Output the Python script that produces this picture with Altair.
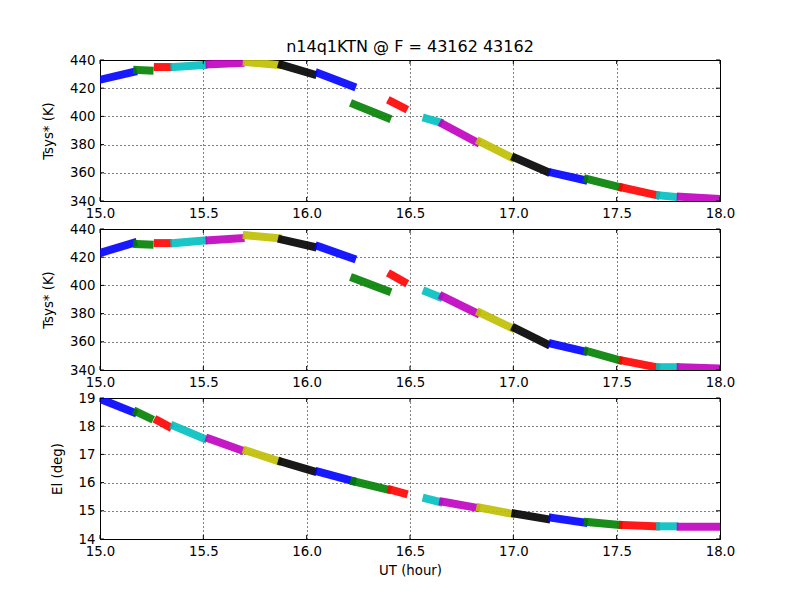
import altair as alt
import pandas as pd

# segment time ranges (UT hour) of first/last sample in each scan
seg_start = [15.00, 15.18, 15.28, 15.36, 15.53, 15.71, 15.88, 16.06, 16.23, 16.41,
             16.58, 16.66, 16.84, 17.01, 17.19, 17.36, 17.53, 17.71, 17.81]
seg_end = [15.16, 15.24, 15.33, 15.50, 15.68, 15.86, 16.03, 16.22, 16.39, 16.47,
           16.64, 16.82, 16.99, 17.16, 17.34, 17.51, 17.69, 17.78, 18.00]

# top panel Tsys*
tsys1_start = [426, 433, 435, 435, 437, 438.5, 436.5, 430.5, 408.5, 410.5,
               398.5, 394.5, 382, 370.5, 360, 355.5, 349.5, 344, 343]
tsys1_end = [431.5, 432.5, 435, 436.5, 438, 436.5, 430, 421.5, 399, 406,
             396, 382, 371, 361, 355, 350, 344.3, 343, 341.5]

# middle panel Tsys*
tsys2_start = [423, 429.3, 430, 430, 432, 435.5, 432.5, 427.5, 405, 407.5,
               395.5, 392, 380.5, 369.5, 358.5, 353.3, 346.6, 342, 342]
tsys2_end = [430, 429, 430, 431.8, 433.5, 433.5, 427.5, 419.3, 396.2, 402.6,
             392, 380.5, 370, 358.6, 353.3, 347.1, 342, 342, 341]

# bottom panel elevation
el_start = [18.97, 18.5, 18.2, 18.0, 17.55, 17.13, 16.74, 16.38, 16.04, 15.74,
            15.43, 15.32, 15.11, 14.9, 14.75, 14.6, 14.5, 14.45, 14.43]
el_end = [18.5, 18.29, 18.0, 17.57, 17.16, 16.77, 16.41, 16.06, 15.76, 15.62,
          15.32, 15.11, 14.9, 14.71, 14.59, 14.5, 14.45, 14.45, 14.43]

cycle = ["#0000ff", "#008000", "#ff0000", "#00bfbf", "#bf00bf", "#bfbf00", "#000000"]
seg_colors = [cycle[i % 7] for i in range(len(seg_start))]

x_ticks = [15.0, 15.5, 16.0, 16.5, 17.0, 17.5, 18.0]
tsys_ticks = [340, 360, 380, 400, 420, 440]
el_ticks = [14, 15, 16, 17, 18, 19]

FONT = "DejaVu Sans"
FS = 13.3
W, H = 620, 141


def make_df(ys, ye):
    rows = []
    for i in range(len(seg_start)):
        rows.append({"seg": i, "x": seg_start[i], "y": ys[i], "color": seg_colors[i]})
        rows.append({"seg": i, "x": seg_end[i], "y": ye[i], "color": seg_colors[i]})
    return pd.DataFrame(rows)


def panel(df, ydom, yticks, ytitle, xtitle=None, title=None):
    xscale = alt.Scale(domain=[15, 18], nice=False, zero=False)
    yscale = alt.Scale(domain=ydom, nice=False, zero=False)
    xaxis_kw = dict(values=x_ticks, format=".1f", grid=True, domain=False, ticks=False,
                    labelFlush=False, labelOverlap=False, labelPadding=5,
                    labelFont=FONT, labelFontSize=FS, labelColor="black",
                    gridColor="black", gridDash=[1, 3], gridOpacity=1, gridWidth=1)
    if xtitle:
        xaxis_kw.update(title=xtitle, titleFont=FONT, titleFontSize=FS,
                        titleFontWeight="normal", titleColor="black", titlePadding=6)
    else:
        xaxis_kw.update(title="")
    xaxis = alt.Axis(**xaxis_kw)
    yaxis = alt.Axis(values=yticks, grid=True, domain=False, ticks=False,
                     labelFlush=False, labelOverlap=False, labelPadding=5,
                     labelFont=FONT, labelFontSize=FS, labelColor="black",
                     gridColor="black", gridDash=[1, 3], gridOpacity=1, gridWidth=1,
                     title=ytitle, titleFont=FONT, titleFontSize=FS,
                     titleFontWeight="normal", titleColor="black", titlePadding=14)
    lines = alt.Chart(df).mark_line(strokeWidth=8, clip=True, strokeCap="square", opacity=0.9).encode(
        x=alt.X("x:Q", scale=xscale, axis=xaxis),
        y=alt.Y("y:Q", scale=yscale, axis=yaxis),
        color=alt.Color("color:N", scale=None),
        detail="seg:N",
    )
    xt = pd.DataFrame({"x": x_ticks})
    yt = pd.DataFrame({"y": yticks})
    xtick_top = alt.Chart(xt).mark_rule(color="black", strokeWidth=1).encode(
        x=alt.X("x:Q", scale=xscale, axis=xaxis), y=alt.value(0), y2=alt.value(4))
    xtick_bot = alt.Chart(xt).mark_rule(color="black", strokeWidth=1).encode(
        x=alt.X("x:Q", scale=xscale, axis=xaxis), y=alt.value(H), y2=alt.value(H - 4))
    ytick_l = alt.Chart(yt).mark_rule(color="black", strokeWidth=1).encode(
        y=alt.Y("y:Q", scale=yscale, axis=yaxis), x=alt.value(0), x2=alt.value(4))
    ytick_r = alt.Chart(yt).mark_rule(color="black", strokeWidth=1).encode(
        y=alt.Y("y:Q", scale=yscale, axis=yaxis), x=alt.value(W), x2=alt.value(W - 4))
    ch = alt.layer(lines, xtick_top, xtick_bot, ytick_l, ytick_r)
    props = dict(width=W, height=H)
    if title:
        props["title"] = alt.Title(title, font=FONT, fontSize=16, fontWeight="normal",
                                   color="black", anchor="middle", frame="group", offset=-2)
    return ch.properties(**props)


p1 = panel(make_df(tsys1_start, tsys1_end), [340, 440], tsys_ticks, "Tsys* (K)",
           title="n14q1KTN @ F = 43162 43162")
p2 = panel(make_df(tsys2_start, tsys2_end), [340, 440], tsys_ticks, "Tsys* (K)")
p3 = panel(make_df(el_start, el_end), [14, 19], el_ticks, "El (deg)", xtitle="UT (hour)")

chart = alt.vconcat(p1, p2, p3, spacing=28, bounds="flush").properties(
    padding={"left": 33, "top": 30, "right": 5, "bottom": 5},
    background="white",
).configure_view(stroke="black", strokeWidth=1)

chart.save("out.html", embed_options={"renderer": "svg", "actions": False})
